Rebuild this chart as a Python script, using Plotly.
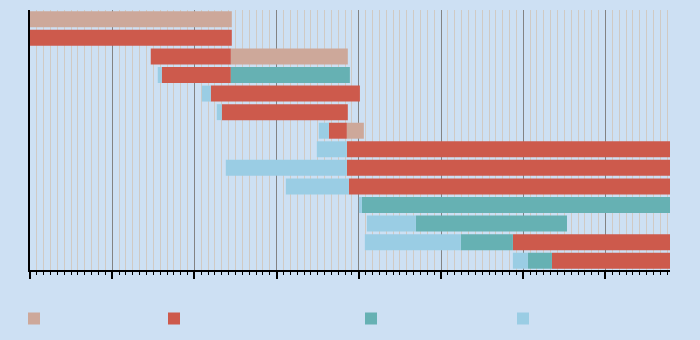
import plotly.graph_objects as go

rows = ["R1", "R2", "R3", "R4", "R5", "R6", "R7", "R8", "R9", "R10", "R11", "R12", "R13", "R14"]
END = 2008.2  # bars running past the visible range

tan_start = [2000.0, None, 2002.443, None, None, None, 2003.854, None, None, None, None, None, None, None]
tan_end   = [2002.455, None, 2003.866, None, None, None, 2004.061, None, None, None, None, None, None, None]

red_start = [None, 2000.0, 2001.469, 2001.603, 2002.199, 2002.333, 2003.635, 2003.854, 2003.854, 2003.879, None, None, 2005.874, 2006.349]
red_end   = [None, 2002.455, 2002.443, 2002.443, 2004.013, 2003.866, 2003.854, END, END, END, None, None, END, END]

teal_start = [None, None, None, 2002.443, None, None, None, None, None, None, 2004.037, 2004.694, 2005.241, 2006.057]
teal_end   = [None, None, None, 2003.891, None, None, None, None, None, None, END, 2006.532, 2005.874, 2006.349]

blue_start = [None, None, None, 2001.554, 2002.090, 2002.272, 2003.513, 2003.489, 2002.382, 2003.112, 2004.001, 2004.098, 2004.073, 2005.874]
blue_end   = [None, None, None, 2001.603, 2002.199, 2002.333, 2003.635, 2003.854, 2003.854, 2003.879, 2004.037, 2004.694, 2005.241, 2006.057]

series = [
    ("", tan_start, tan_end, "#cda89a", "legend"),
    ("", red_start, red_end, "#cd5a4c", "legend2"),
    ("", teal_start, teal_end, "#66b1b3", "legend3"),
    ("", blue_start, blue_end, "#9acde4", "legend4"),
]

BG = "#cde0f3"
fig = go.Figure()
for name, s, e, col, lg in series:
    ys, bases, lens = [], [], []
    for r, a, b in zip(rows, s, e):
        if a is not None:
            ys.append(r)
            bases.append(a)
            lens.append(b - a)
    fig.add_trace(go.Bar(
        y=ys, x=lens, base=bases, orientation="h", name=name,
        marker=dict(color=col, line=dict(width=0)),
        legend=lg, showlegend=True, hoverinfo="skip",
    ))

legend_x = [28, 168, 365, 517]
leg_common = dict(xref="container", yref="container", xanchor="left", yanchor="middle",
                  y=21.5 / 340, bgcolor="rgba(0,0,0,0)", borderwidth=0,
                  font=dict(size=12, color="black"), orientation="h")
fig.update_layout(
    width=700, height=340,
    margin=dict(l=30, r=30, t=10, b=70),
    paper_bgcolor=BG, plot_bgcolor=BG,
    barmode="overlay", bargap=0.14,
    legend=dict(x=(legend_x[0] - 14) / 700, **leg_common),
    legend2=dict(x=(legend_x[1] - 14) / 700, **leg_common),
    legend3=dict(x=(legend_x[2] - 14) / 700, **leg_common),
    legend4=dict(x=(legend_x[3] - 14) / 700, **leg_common),
    xaxis=dict(
        range=[2000, 2007.785], tick0=2000, dtick=1,
        showgrid=True, gridcolor="#838383", gridwidth=1.2,
        ticks="outside", ticklen=7, tickwidth=1.5, tickcolor="black",
        showticklabels=False, zeroline=False,
        showline=True, linecolor="black", linewidth=2,
        minor=dict(dtick=1 / 12, tick0=2000, showgrid=True, gridcolor="#d0cac4", gridwidth=1,
                   ticks="outside", ticklen=3, tickwidth=1.3, tickcolor="black"),
    ),
    yaxis=dict(
        categoryorder="array", categoryarray=rows, autorange="reversed",
        showticklabels=False, showgrid=False, zeroline=False, ticks="",
        showline=True, linecolor="black", linewidth=2,
    ),
)
fig.write_html("out.html")
